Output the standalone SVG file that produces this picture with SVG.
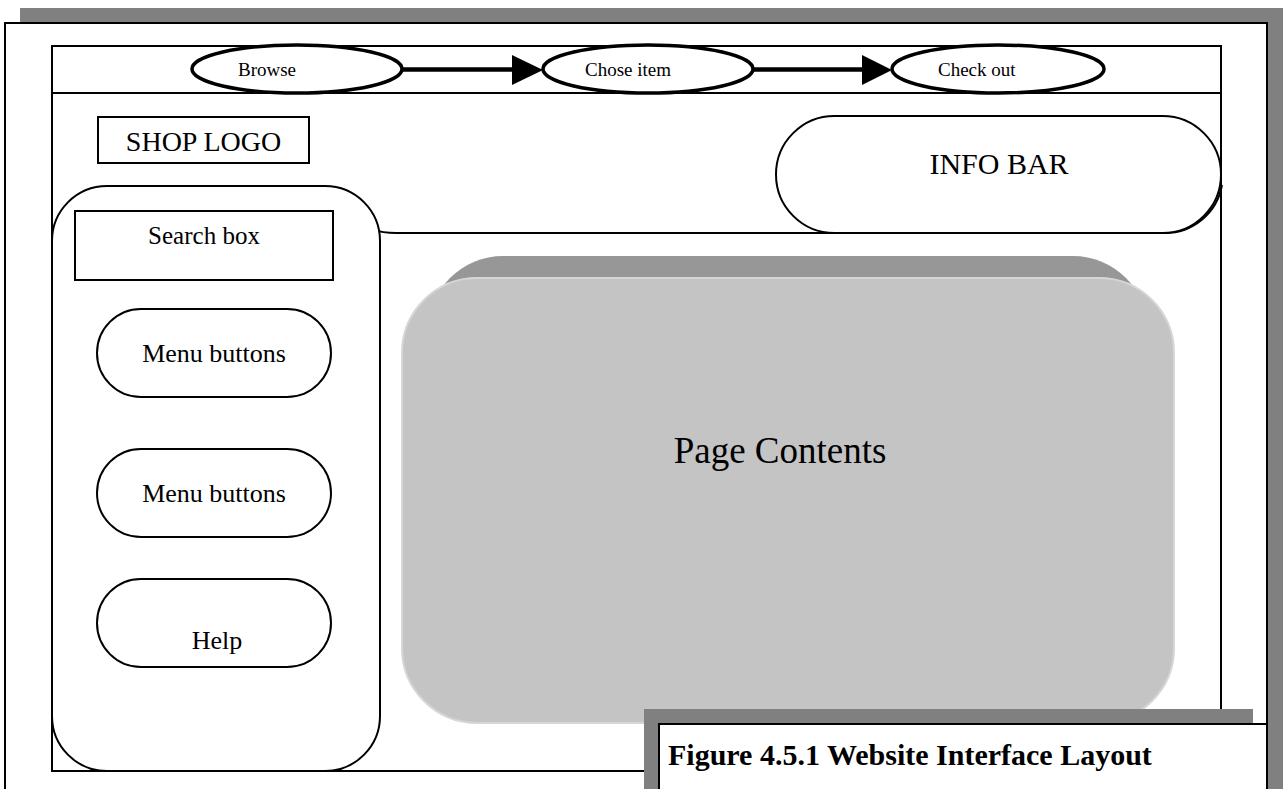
<svg xmlns="http://www.w3.org/2000/svg" width="1283" height="789" viewBox="0 0 1283 789">
<defs>
<style>
.ln{fill:none;stroke:#000;stroke-width:2}
.wb{fill:#fff;stroke:#000;stroke-width:2}
.el{fill:#fff;stroke:#000;stroke-width:3.5}
.t{font-family:"Liberation Serif","Times New Roman",serif;fill:#000}
.sm{font-size:19px}
.md{font-size:26px}
</style>
</defs>
<rect width="1283" height="789" fill="#fff"/>
<g id="page">
<rect x="20" y="8" width="1263" height="790" fill="#808080"/>
<rect x="5" y="23" width="1262" height="780" class="wb"/>
<rect x="52" y="46" width="1169" height="725" class="ln"/>
<line x1="52" y1="93" x2="1221" y2="93" class="ln"/>
</g>
<g id="info-bar-back">
<path d="M332,186 A 64 48 0 0 0 396,233 L 1164,233 A 58 58 0 0 0 1222,185" class="ln"/>
</g>
<g id="sidebar">
<rect x="52" y="186" width="328" height="585" rx="55" ry="55" class="wb"/>
</g>
<g id="browse"><ellipse cx="297" cy="69" rx="105" ry="24" class="el"/><text x="238" y="76" class="t sm">Browse</text></g>
<g id="chose-item"><ellipse cx="648" cy="69" rx="105" ry="24" class="el"/><text x="585" y="76" class="t sm">Chose item</text></g>
<g id="check-out"><ellipse cx="998" cy="69" rx="106" ry="24" class="el"/><text x="938" y="76" class="t sm">Check out</text></g>
<g id="connectors">
<line x1="402" y1="69.5" x2="514" y2="69.5" stroke="#000" stroke-width="4.5"/>
<path d="M512,55 L543,70 L512,85 Z" fill="#000"/>
<line x1="753" y1="69.5" x2="864" y2="69.5" stroke="#000" stroke-width="4.5"/>
<path d="M862,55 L892,70 L862,85 Z" fill="#000"/>
</g>
<g id="shop-logo"><rect x="98" y="117" width="211" height="46" class="wb"/><text x="203.5" y="151" text-anchor="middle" class="t" font-size="28">SHOP LOGO</text></g>
<g id="info-bar"><rect x="776" y="116" width="445" height="117" rx="58.5" ry="58.5" class="wb"/><text x="999" y="174" text-anchor="middle" class="t" font-size="30">INFO BAR</text></g>
<g id="search-box"><rect x="75" y="211" width="258" height="69" class="wb"/><text x="204" y="244" text-anchor="middle" class="t" font-size="25">Search box</text></g>
<g id="menu1"><rect x="97" y="309" width="234" height="88" rx="44" ry="44" class="wb"/><text x="214" y="362" text-anchor="middle" class="t md">Menu buttons</text></g>
<g id="menu2"><rect x="97" y="449" width="234" height="88" rx="44" ry="44" class="wb"/><text x="214" y="502" text-anchor="middle" class="t md">Menu buttons</text></g>
<g id="help"><rect x="97" y="579" width="234" height="88" rx="44" ry="44" class="wb"/><text x="217" y="649" text-anchor="middle" class="t md">Help</text></g>
<g id="page-contents">
<rect x="428" y="256" width="720" height="420" rx="75" ry="75" fill="#979797"/>
<rect x="402" y="278" width="772" height="445" rx="75" ry="75" fill="#c4c4c4" stroke="#d6d6d6" stroke-width="2"/>
<text x="780" y="463" text-anchor="middle" class="t" font-size="37">Page Contents</text>
</g>
<g id="caption">
<rect x="644" y="709" width="609" height="90" fill="#808080"/>
<rect x="659" y="724" width="608" height="80" class="wb"/>
<text x="668" y="765" class="t" font-size="30" font-weight="bold">Figure 4.5.1 Website Interface Layout</text>
</g>
</svg>
